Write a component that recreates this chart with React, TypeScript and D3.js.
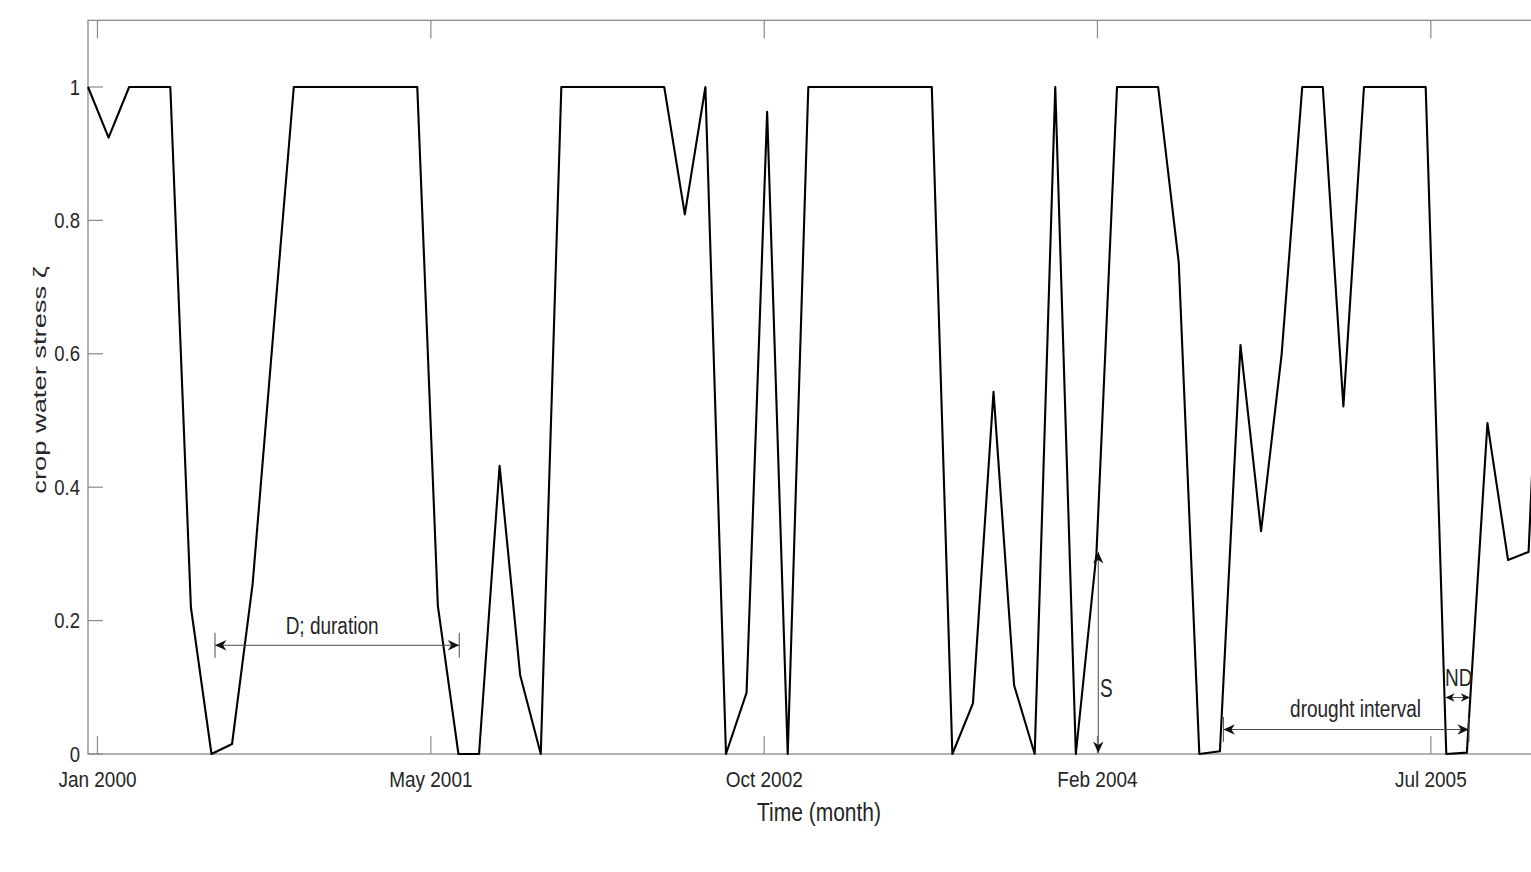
import React, { useEffect, useRef } from 'react';
import * as d3 from 'd3';

// monthly crop water stress, one value per month (index 0 = first month)
const stress = [
    1, 0.924, 1, 1, 1,
    0.22, 0, 0.015, 0.255, 0.63,
    1, 1, 1, 1, 1, 1, 1,
    0.222, 0, 0, 0.432, 0.118, 0,
    1, 1, 1, 1, 1, 1,
    0.809, 1, 0, 0.092, 0.963, 0,
    1, 1, 1, 1, 1, 1, 1,
    0, 0.076, 0.543, 0.103, 0, 1, 0, 0.3,
    1, 1, 1,
    0.737, 0, 0.004, 0.613, 0.334, 0.599,
    1, 1,
    0.521,
    1, 1, 1, 1,
    0, 0.002, 0.496, 0.291, 0.303, 1
];
const months = stress.map((_, i) => i);

// x ticks sit every 500 days, i.e. not on whole months
const xTickPos = [0.46, 16.66, 32.86, 49.05, 65.25];
const xTickLabels = ['Jan 2000', 'May 2001', 'Oct 2002', 'Feb 2004', 'Jul 2005'];
const yTicks = [0, 0.2, 0.4, 0.6, 0.8, 1];
const yTickLabels = ['0', '0.2', '0.4', '0.6', '0.8', '1'];

// annotation arrows, in data units (month index, stress)
const spans = [
    { x1: 6.17, x2: 18.04, y: 0.163, bars: true },    // D; duration
    { x1: 55.17, x2: 67.1, y: 0.0367, bars: true },   // drought interval
    { x1: 65.96, x2: 67.15, y: 0.0847, bars: false, small: true } // ND
];
const severity = { x: 49.09, y1: 0.0015, y2: 0.303 };
const notes = [
    { text: 'D; duration', x: 11.86, y: 0.18, anchor: 'middle' },
    { text: 'S', x: 49.17, y: 0.0855, anchor: 'start' },
    { text: 'drought interval', x: 61.59, y: 0.0555, anchor: 'middle' },
    { text: 'ND', x: 66.6, y: 0.102, anchor: 'middle' }
];

const FONT = '"Liberation Sans", Arial, Helvetica, sans-serif';

const App = () => {
    const svgRef = useRef<SVGSVGElement>(null);

    useEffect(() => {
        const svg = d3.select(svgRef.current);
        svg.selectAll('*').remove();

        const left = 88, step = 20.58;
        const top = 20.3, bottom = 754;

        const x = d3.scaleLinear()
            .domain([0, months.length - 1])
            .range([left, left + (months.length - 1) * step]);
        const y = d3.scaleLinear().domain([0, 1.1]).range([bottom, top]);
        const right = x.range()[1];

        const axisColor = '#8a8a8a';
        const textColor = '#262626';

        // stretched text (the figure was saved taller than it was drawn)
        const label = (g, tx, ty, str, size, anchor, sy = 1.22) => {
            g.append('text')
                .attr('transform', `translate(${tx},${ty}) scale(1,${sy})`)
                .attr('text-anchor', anchor)
                .attr('font-family', FONT)
                .attr('font-size', size)
                .attr('fill', textColor)
                .text(str);
        };

        // box
        const axes = svg.append('g');
        axes.append('rect')
            .attr('x', left).attr('y', top)
            .attr('width', right - left).attr('height', bottom - top)
            .attr('fill', 'none')
            .attr('stroke', axisColor)
            .attr('stroke-width', 1.3);

        // x ticks, inside on top and bottom
        xTickPos.forEach((p, i) => {
            const px = x(p);
            axes.append('line')
                .attr('x1', px).attr('x2', px)
                .attr('y1', bottom).attr('y2', bottom - 18)
                .attr('stroke', axisColor).attr('stroke-width', 1.2);
            axes.append('line')
                .attr('x1', px).attr('x2', px)
                .attr('y1', top).attr('y2', top + 18)
                .attr('stroke', axisColor).attr('stroke-width', 1.2);
            label(axes, px, 786.5, xTickLabels[i], 19, 'middle', 1.2);
        });

        // y ticks
        yTicks.forEach((v, i) => {
            const py = y(v);
            axes.append('line')
                .attr('x1', left).attr('x2', left + 15)
                .attr('y1', py).attr('y2', py)
                .attr('stroke', axisColor).attr('stroke-width', 1.2);
            label(axes, 80, py + 7.5, yTickLabels[i], 18.5, 'end', 1.18);
        });

        // axis titles
        label(axes, 819, 820.5, 'Time (month)', 21, 'middle', 1.25);
        axes.append('text')
            .attr('transform', `translate(46,380) rotate(-90) scale(1.3,1)`)
            .attr('text-anchor', 'middle')
            .attr('font-family', FONT)
            .attr('font-size', 19)
            .attr('fill', textColor)
            .attr('textLength', 175)
            .attr('lengthAdjust', 'spacingAndGlyphs')
            .text('crop water stress ζ');

        // series
        const line = d3.line<number>()
            .x(i => x(months[i]))
            .y(i => y(stress[i]));
        svg.append('path')
            .datum(months)
            .attr('fill', 'none')
            .attr('stroke', '#000')
            .attr('stroke-width', 2.1)
            .attr('stroke-linejoin', 'round')
            .attr('d', line);

        // annotations
        const ann = svg.append('g');
        const shaft = '#4a4a4a';
        const head = (hx, hy, angle, s = 1) => {
            ann.append('path')
                .attr('d', 'M0,0 L-11.5,-5.2 L-8,0 L-11.5,5.2 Z')
                .attr('transform', `translate(${hx},${hy}) rotate(${angle}) scale(${s})`)
                .attr('fill', '#111');
        };

        spans.forEach(sp => {
            const x1 = x(sp.x1), x2 = x(sp.x2), py = y(sp.y);
            ann.append('line')
                .attr('x1', x1).attr('x2', x2)
                .attr('y1', py).attr('y2', py)
                .attr('stroke', shaft).attr('stroke-width', 1);
            const s = sp.small ? 0.8 : 1;
            head(x1, py, 180, s);
            head(x2, py, 0, s);
            if (sp.bars) {
                [x1, x2].forEach(bx => {
                    ann.append('line')
                        .attr('x1', bx).attr('x2', bx)
                        .attr('y1', py - 12.5).attr('y2', py + 12.5)
                        .attr('stroke', shaft).attr('stroke-width', 1);
                });
            }
        });

        const sx = x(severity.x);
        ann.append('line')
            .attr('x1', sx).attr('x2', sx)
            .attr('y1', y(severity.y1)).attr('y2', y(severity.y2))
            .attr('stroke', shaft).attr('stroke-width', 1);
        head(sx, y(severity.y2), -90);
        head(sx, y(severity.y1), 90);

        notes.forEach(n => {
            label(ann, x(n.x), y(n.y), n.text, 19, n.anchor, n.text === 'S' ? 1.35 : 1.28);
        });
    }, []);

    return (
        <svg
            ref={svgRef}
            width={1531}
            height={872}
            style={{ position: 'absolute', left: 0, top: 0, background: '#fff' }}
        />
    );
};

export default App;
